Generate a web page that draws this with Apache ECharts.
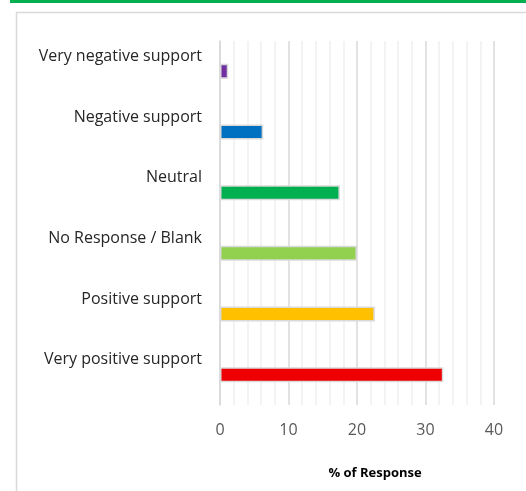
<!DOCTYPE html>
<html>
<head>
<meta charset="utf-8">
<style>
  html, body { margin: 0; padding: 0; background: #fff; }
  #chart { width: 526px; height: 491px; }
</style>
<script src="https://cdn.jsdelivr.net/npm/echarts@6/dist/echarts.min.js"></script>
</head>
<body>
<div id="chart"></div>
<script>
// Survey answers, listed top to bottom
const categories = [
  'Very negative support',
  'Negative support',
  'Neutral',
  'No Response / Blank',
  'Positive support',
  'Very positive support'
];
// Share of responses (%)
const percentValues = [1.2, 6.3, 17.5, 20.0, 22.6, 32.6];
const barColors = ['#7030A0', '#0070C0', '#00B050', '#92D050', '#FFC000', '#EE0000'];
const xTicks = [0, 10, 20, 30, 40];
const axisTitle = '% of Response';

const chart = echarts.init(document.getElementById('chart'), null, { renderer: 'canvas' });

const font = '"Open Sans", "Noto Sans", sans-serif';

chart.setOption({
  animation: false,
  backgroundColor: '#ffffff',
  graphic: [
    { type: 'rect', shape: { x: 10, y: 0, width: 516, height: 3 }, style: { fill: '#00B050' }, z: 0 },
    { type: 'rect', shape: { x: 16.5, y: 12.5, width: 520, height: 500 },
      style: { fill: 'none', stroke: '#D9D9D9', lineWidth: 1.5 }, z: 0, silent: true }
  ],
  grid: { left: 220, right: 32, top: 41, bottom: 86, containLabel: false },
  xAxis: {
    type: 'value',
    min: xTicks[0],
    max: xTicks[xTicks.length - 1],
    interval: 10,
    axisLine: { show: false },
    axisTick: { show: false },
    axisLabel: { color: '#595959', fontSize: 16, fontFamily: font, margin: 17 },
    splitLine: { show: true, lineStyle: { color: '#D9D9D9', width: 1.5 } },
    minorTick: { show: false, splitNumber: 5 },
    minorSplitLine: { show: true, lineStyle: { color: '#F0F0F0', width: 1.5 } },
    name: axisTitle,
    nameLocation: 'middle',
    nameGap: 62,
    nameTextStyle: { color: '#000', fontSize: 13, fontWeight: 'bold', fontFamily: font, padding: [0, 0, 0, 36] }
  },
  yAxis: {
    type: 'category',
    data: categories,
    inverse: true,
    axisLine: { show: true, lineStyle: { color: '#D9D9D9', width: 1.5 } },
    axisTick: { show: false },
    axisLabel: {
      color: '#262626', fontSize: 16, fontFamily: font, margin: 18,
      verticalAlign: 'bottom', lineHeight: 18, padding: [0, 0, 6, 0]
    }
  },
  series: [{
    type: 'bar',
    data: percentValues.map((v, i) => ({ value: v, itemStyle: { color: barColors[i] } })),
    barWidth: 15,
    itemStyle: { borderColor: '#D9D9D9', borderWidth: 1.5 }
  }]
});
</script>
</body>
</html>
